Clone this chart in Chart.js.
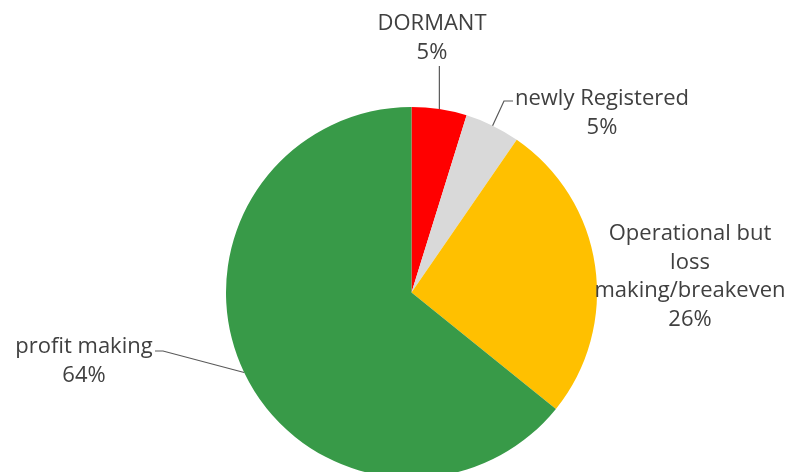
<!DOCTYPE html>
<html>
<head>
<meta charset="utf-8">
<script src="https://cdn.jsdelivr.net/npm/chart.js@4"></script>
<style>
  html, body { margin: 0; padding: 0; background: #fff; overflow: hidden; }
  #wrap { position: relative; width: 786px; height: 480px; }
</style>
</head>
<body>
<div id="wrap"><canvas id="pieChart"></canvas></div>
<script>
// --- data ---
const categories = ['DORMANT', 'newly Registered', 'Operational but loss making/breakeven', 'profit making'];
const shares = [4.8, 4.8, 26.2, 64.2];
const sliceColors = ['#FF0000', '#D9D9D9', '#FFC000', '#389A48'];

// label text lines (how the original wraps them)
const labelLines = [
  ['DORMANT'],
  ['newly Registered'],
  ['Operational but', 'loss', 'making/breakeven'],
  ['profit making']
];

const total = shares.reduce((a, b) => a + b, 0);

// where each label sits, and its leader line (if any)
const labelLayout = [
  { x: 432, y: 30, leader: [[440, 66]] },
  { x: 602, y: 105, leader: [[513, 101], [504, 101]] },
  { x: 690, y: 240, leader: null },
  { x: 84, y: 353, leader: [[155, 351], [163, 351]] }
];

const calloutPlugin = {
  id: 'callouts',
  afterDatasetsDraw(chart) {
    const ctx = chart.ctx;
    const arcs = chart.getDatasetMeta(0).data;
    ctx.save();
    ctx.font = '22px "Open Sans"';
    ctx.fillStyle = '#404040';
    ctx.textAlign = 'center';
    ctx.textBaseline = 'alphabetic';
    arcs.forEach((arc, i) => {
      const lay = labelLayout[i];
      const lines = labelLines[i].concat([Math.round(shares[i] / total * 100) + '%']);
      lines.forEach((t, k) => ctx.fillText(t, lay.x, lay.y + k * 28.5));

      if (lay.leader) {
        const mid = (arc.startAngle + arc.endAngle) / 2;
        const ex = arc.x + Math.cos(mid) * arc.outerRadius;
        const ey = arc.y + Math.sin(mid) * arc.outerRadius;
        ctx.strokeStyle = '#595959';
        ctx.lineWidth = 1.2;
        ctx.beginPath();
        lay.leader.forEach((p, k) => {
          const px = (i === 0) ? ex : p[0];
          if (k === 0) ctx.moveTo(px, p[1]); else ctx.lineTo(px, p[1]);
        });
        ctx.lineTo(ex, ey);
        ctx.stroke();
      }
    });
    ctx.restore();
  }
};

new Chart(document.getElementById('pieChart'), {
  type: 'pie',
  data: {
    labels: categories,
    datasets: [{
      data: shares,
      backgroundColor: sliceColors,
      borderWidth: 0
    }]
  },
  options: {
    responsive: true,
    maintainAspectRatio: false,
    animation: false,
    layout: { padding: { top: 107, bottom: 2, left: 37, right: 0 } },
    plugins: {
      legend: { display: false },
      tooltip: { enabled: false }
    }
  },
  plugins: [calloutPlugin]
});
</script>
</body>
</html>
